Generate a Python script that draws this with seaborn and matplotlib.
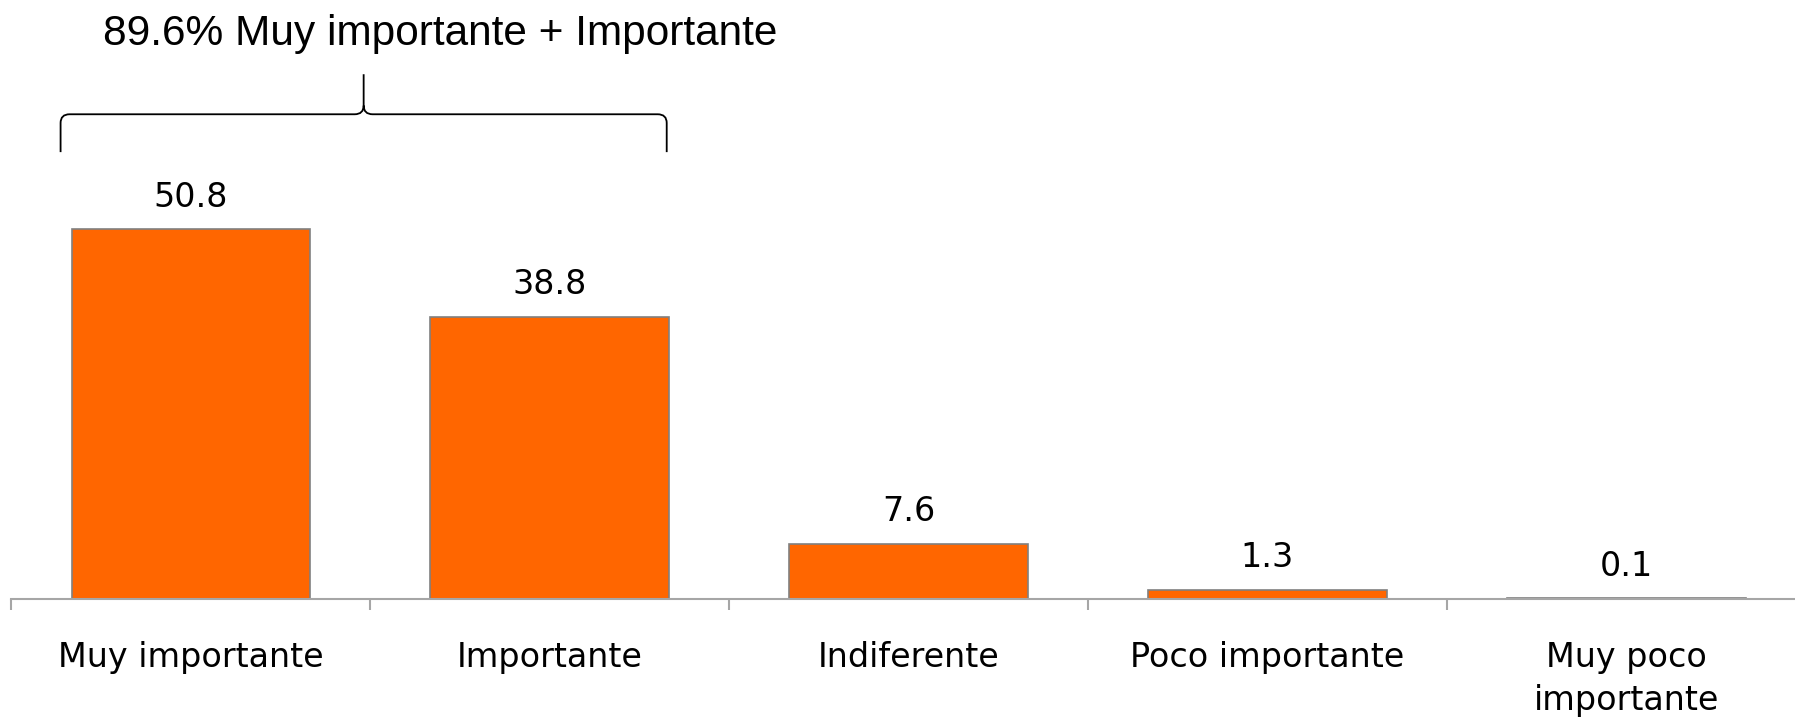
import matplotlib
matplotlib.use("Agg")
import matplotlib.pyplot as plt
from matplotlib.path import Path
from matplotlib.patches import PathPatch
import numpy as np
import pandas as pd
import seaborn as sns

# Data
categories = ["Muy importante", "Importante", "Indiferente", "Poco importante", "Muy poco\nimportante"]
values = [50.8, 38.8, 7.6, 1.3, 0.1]
summary_text = "89.6% Muy importante + Importante"

# Styling
BAR_COLOR = "#FF6600"
EDGE_COLOR = "#808080"
AXIS_COLOR = "#A6A6A6"
TEXT_COLOR = "black"

sns.set_theme(style="white")
plt.rcParams["font.family"] = ["DejaVu Sans"]

df = pd.DataFrame({"category": categories, "value": values})

fig = plt.figure(figsize=(17.95, 7.21), dpi=100)
ax = fig.add_axes([0.00636, 0.1692, 0.99364, 0.8308])

sns.barplot(data=df, x="category", y="value", color=BAR_COLOR, saturation=1,
            width=0.665, edgecolor=EDGE_COLOR, linewidth=1.2, ax=ax)

ax.set_xlim(-0.5, 4.47)
ax.set_ylim(0, 82.3)
ax.set_xlabel("")
ax.set_ylabel("")
ax.set_yticks([])

for side in ["top", "right", "left"]:
    ax.spines[side].set_visible(False)
ax.spines["bottom"].set_color(AXIS_COLOR)
ax.spines["bottom"].set_linewidth(1.5)

# category labels at centers, tick marks at category boundaries
ax.set_xticks(range(len(categories)))
ax.set_xticklabels(categories, fontsize=24, color=TEXT_COLOR, linespacing=1.4)
ax.tick_params(axis="x", which="major", length=0, pad=30)
ax.set_xticks(np.arange(len(categories)) - 0.5, minor=True)
ax.tick_params(axis="x", which="minor", length=8, width=1.5, color=AXIS_COLOR, bottom=True)

# value labels
for i, v in enumerate(values):
    ax.annotate(f"{v:.1f}", (i, v), xytext=(0, 23), textcoords="offset points",
                ha="center", va="center", fontsize=24, color=TEXT_COLOR)

# bracket over the first two bars
x0, x1 = -0.363, 1.326
xm = (x0 + x1) / 2
y_low, y_mid, y_peak = 61.4, 66.6, 72.1
dx, dy = 0.025, 1.2
verts = [
    (x0, y_low), (x0, y_mid - dy), (x0, y_mid), (x0 + dx, y_mid),
    (xm - dx, y_mid), (xm, y_mid), (xm, y_mid + dy), (xm, y_peak),
    (xm, y_mid + dy), (xm, y_mid), (xm + dx, y_mid),
    (x1 - dx, y_mid), (x1, y_mid), (x1, y_mid - dy), (x1, y_low),
]
codes = [
    Path.MOVETO, Path.LINETO, Path.CURVE3, Path.CURVE3,
    Path.LINETO, Path.CURVE3, Path.CURVE3, Path.LINETO,
    Path.MOVETO, Path.CURVE3, Path.CURVE3,
    Path.LINETO, Path.CURVE3, Path.CURVE3, Path.LINETO,
]
ax.add_patch(PathPatch(Path(verts, codes), facecolor="none", edgecolor="black",
                       linewidth=1.3, clip_on=False))

ax.text(-0.245, 77.6, summary_text, ha="left", va="center", fontsize=30.5,
        family=["Liberation Sans", "DejaVu Sans"], color=TEXT_COLOR)

fig.savefig("out.png", dpi=100, facecolor="white")
